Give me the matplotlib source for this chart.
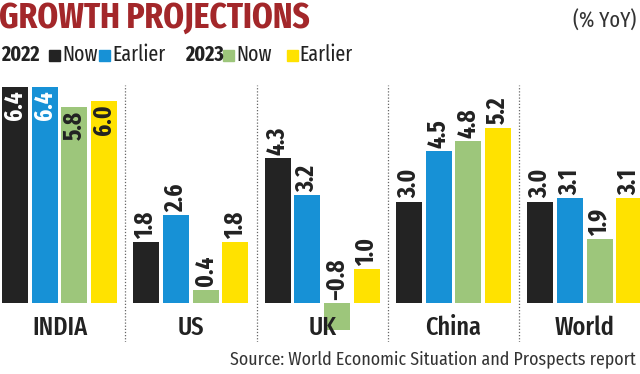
import matplotlib
matplotlib.use("Agg")
import matplotlib.pyplot as plt

categories = ["INDIA", "US", "UK", "China", "World"]
now_2022 = [6.4, 1.8, 4.3, 3.0, 3.0]
earlier_2022 = [6.4, 2.6, 3.2, 4.5, 3.1]
now_2023 = [5.8, 0.4, -0.8, 4.8, 1.9]
earlier_2023 = [6.0, 1.8, 1.0, 5.2, 3.1]
series = [now_2022, earlier_2022, now_2023, earlier_2023]
colors = ["#232323", "#1791d6", "#9dc67b", "#ffe200"]
inside_text = ["white", "white", "#222222", "#222222"]

XC = "Fira Sans Extra Condensed"
C = "Fira Sans Condensed"

fig = plt.figure(figsize=(6.4, 3.74), dpi=100)
W, H = 640, 374
top_px, bot_px = 85, 342
ax = fig.add_axes([0, 1 - bot_px / H, 1, (bot_px - top_px) / H])

G = 4.42
bw = 0.87
scale = 33.75
base_px = 303
ax.set_ylim(-(bot_px - base_px) / scale, (base_px - top_px) / scale)
ax.set_xlim(-0.505, 21.04)
ax.axis("off")

for j, (vals, c) in enumerate(zip(series, colors)):
    for i, v in enumerate(vals):
        x = i * G + j
        ax.bar(x, v, width=bw, color=c, linewidth=0)
        lab = f"{v:.1f}".replace("-", "\u2212")
        if i == 0:
            ax.text(x, v - 0.1, lab, rotation=90, ha="center", va="top",
                    color=inside_text[j], fontsize=18, fontweight="bold",
                    family=XC)
        else:
            y = max(v, 0) + 0.1
            ax.text(x, y, lab, rotation=90, ha="center", va="bottom",
                    color="#222222", fontsize=18, fontweight="bold",
                    family=XC)

for i in range(4):
    ax.axvline(i * G + 3 + (G - 3) / 2, color="#666666", linestyle=(0, (1, 1.5)),
               linewidth=0.9)

for i, cat in enumerate(categories):
    ax.text(i * G + 1.5, -0.74, cat, ha="center", va="center", fontsize=19,
            color="#222222", family=XC, fontweight=500)

# Title
fig.text(-0.002, 1 - 18 / H, "GROWTH PROJECTIONS", ha="left", va="center",
         fontsize=26, fontweight="bold", color="#a3272a", family=XC)
fig.text(636 / W, 1 - 21 / H, "(% YoY)", ha="right", va="center",
         fontsize=16, color="#333333", family=XC)

# Legend row
ly = 1 - 55 / H
def t(x, s, bold=False):
    fig.text(x / W, ly, s, ha="left", va="center", fontsize=15.5,
             fontweight="bold" if bold else "normal", color="#222222", family=XC)
def sq(x, c):
    fig.patches.append(plt.Rectangle((x / W, ly - 5.5 / H), 11 / W, 11 / H,
                                     transform=fig.transFigure, color=c, figure=fig))
t(1, "2022", True)
sq(49, colors[0]); t(62, "Now")
sq(99, colors[1]); t(112, "Earlier")
t(185, "2023", True)
sq(223, colors[2]); t(236, "Now")
sq(287, colors[3]); t(299, "Earlier")

fig.text(636 / W, 1 - 359 / H, "Source: World Economic Situation and Prospects report",
         ha="right", va="center", fontsize=12.8, color="#333333", family=C)

fig.savefig("out.png", dpi=100)
